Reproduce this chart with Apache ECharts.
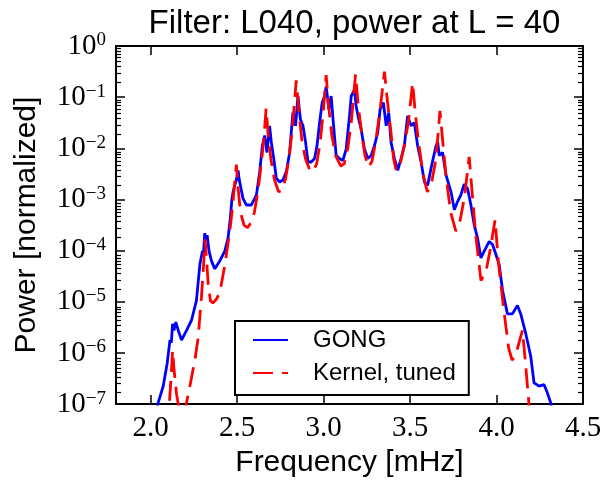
<!DOCTYPE html>
<html>
<head>
<meta charset="utf-8">
<script src="https://cdn.jsdelivr.net/npm/echarts@6/dist/echarts.min.js"></script>
<style>html,body{margin:0;padding:0;background:#fff}#c{width:605px;height:483px}</style>
</head>
<body>
<div id="c"></div>
<script>
// ---- data (frequency in mHz, normalized power) ----
const gongFreq = [2.025,2.044,2.073,2.096,2.112,2.120,2.127,2.135,2.146,2.160,2.179,2.208,2.237,2.265,2.285,2.300,2.305,2.313,2.320,2.327,2.338,2.352,2.371,2.400,2.429,2.448,2.461,2.470,2.477,2.487,2.496,2.506,2.512,2.519,2.534,2.554,2.583,2.612,2.631,2.646,2.660,2.673,2.688,2.698,2.712,2.727,2.746,2.765,2.785,2.804,2.813,2.823,2.838,2.852,2.866,2.881,2.896,2.910,2.929,2.948,2.962,2.977,2.992,3.006,3.015,3.031,3.044,3.058,3.073,3.092,3.112,3.131,3.150,3.160,3.179,3.188,3.203,3.217,3.236,3.256,3.275,3.294,3.313,3.327,3.346,3.362,3.377,3.390,3.410,3.429,3.448,3.467,3.486,3.506,3.525,3.544,3.564,3.583,3.602,3.621,3.650,3.660,3.669,3.688,3.708,3.737,3.756,3.775,3.794,3.813,3.833,3.852,3.871,3.890,3.910,3.929,3.958,3.977,3.996,4.015,4.035,4.063,4.092,4.121,4.140,4.169,4.198,4.217,4.246,4.275,4.294,4.313,4.330];
const gongPower = [5.0e-8,1.07e-7,2.24e-7,6.3e-7,1.78e-6,1.58e-6,3.7e-6,2.75e-6,4.0e-6,2.75e-6,1.78e-6,2.75e-6,4.4e-6,1.05e-5,5.4e-5,9.8e-5,7.9e-5,2.2e-4,1.58e-4,2.0e-4,9.8e-5,6.3e-5,4.4e-5,6.3e-5,9.8e-5,1.78e-4,4.3e-4,1.0e-3,1.41e-3,1.9e-3,2.4e-3,3.7e-3,2.5e-3,1.9e-3,1.05e-3,7.8e-4,7.8e-4,1.23e-3,3.5e-3,1.12e-2,1.78e-2,8.3e-3,2.75e-2,1.32e-2,6.3e-3,2.6e-3,2.2e-3,2.4e-3,3.5e-3,8.3e-3,2.0e-2,5.0e-2,2.75e-2,1.05e-1,3.7e-2,2.75e-2,1.32e-2,5.4e-3,5.4e-3,6.3e-3,1.12e-2,3.16e-2,7.8e-2,1.05e-1,1.62e-1,5.8e-2,1.05e-1,2.75e-2,7.2e-3,6.3e-3,5.8e-3,9.8e-3,4.3e-2,1.05e-1,1.41e-1,6.8e-2,3.7e-2,2.4e-2,9.8e-3,6.3e-3,7.2e-3,1.12e-2,2.0e-2,5.8e-2,7.8e-2,2.75e-2,5.0e-2,1.32e-2,6.3e-3,3.7e-3,6.3e-3,1.12e-2,4.3e-2,2.75e-2,3.16e-2,1.12e-2,5.4e-3,2.2e-3,1.9e-3,4.0e-3,1.12e-2,1.32e-2,7.2e-3,8.3e-3,3.0e-3,1.41e-3,6.3e-4,9.1e-4,1.23e-3,2.0e-3,1.62e-3,7.8e-4,3.2e-4,1.78e-4,7.2e-5,9.8e-5,1.51e-4,1.32e-4,8.5e-5,5.4e-5,1.66e-5,5.8e-6,5.8e-6,8.5e-6,5.8e-6,2.4e-6,8.5e-7,2.6e-7,2.24e-7,2.4e-7,1.66e-7,1.07e-7,5.0e-8];

const kernelFreq = [2.080,2.110,2.120,2.127,2.135,2.150,2.170,2.200,2.227,2.256,2.275,2.294,2.305,2.315,2.323,2.333,2.346,2.360,2.380,2.400,2.430,2.458,2.475,2.488,2.496,2.505,2.520,2.540,2.560,2.580,2.600,2.620,2.640,2.655,2.668,2.680,2.695,2.715,2.740,2.760,2.780,2.800,2.820,2.842,2.858,2.875,2.895,2.920,2.940,2.960,2.980,2.998,3.015,3.030,3.048,3.070,3.100,3.120,3.140,3.160,3.185,3.200,3.220,3.240,3.260,3.280,3.300,3.325,3.352,3.370,3.390,3.405,3.420,3.440,3.460,3.490,3.515,3.530,3.550,3.575,3.600,3.620,3.645,3.660,3.673,3.690,3.710,3.735,3.765,3.790,3.815,3.842,3.860,3.880,3.910,3.940,3.965,3.992,4.010,4.040,4.070,4.090,4.110,4.130,4.150,4.165,4.180,4.190,4.200];
const kernelPower = [3.2e-8,1.26e-7,4.0e-7,1.12e-6,5.0e-7,1.58e-7,6.3e-8,7.9e-8,2.24e-7,7.2e-7,2.0e-6,1.23e-5,4.5e-5,1.66e-4,7.2e-5,2.24e-5,1.05e-5,9.5e-6,1.12e-5,1.51e-5,5.4e-5,2.4e-4,7.9e-4,2.5e-3,4.8e-3,1.78e-3,5.6e-4,3.16e-4,2.8e-4,3.5e-4,5.6e-4,1.41e-3,5.0e-3,1.58e-2,6.0e-2,1.78e-2,6.3e-3,2.5e-3,1.41e-3,1.51e-3,2.5e-3,6.3e-3,2.5e-2,2.14e-1,5.0e-2,1.41e-2,6.3e-3,3.8e-3,3.5e-3,5.0e-3,1.26e-2,5.0e-2,2.7e-1,6.3e-2,1.78e-2,7.1e-3,4.5e-3,5.0e-3,1.0e-2,3.16e-2,2.8e-1,7.1e-2,2.0e-2,7.1e-3,4.3e-3,5.6e-3,1.26e-2,5.0e-2,3.16e-1,7.9e-2,2.0e-2,6.3e-3,3.7e-3,4.5e-3,8.9e-3,3.16e-2,1.9e-1,5.0e-2,1.26e-2,3.16e-3,1.41e-3,1.78e-3,5.0e-3,1.58e-2,5.4e-2,1.26e-2,2.5e-3,5.6e-4,2.4e-4,4.0e-4,1.12e-3,6.8e-3,1.26e-3,2.0e-4,2.6e-5,4.0e-5,1.12e-4,4.0e-4,6.3e-5,7.9e-6,1.26e-6,7.2e-7,8.9e-7,1.58e-6,2.75e-6,7.9e-7,2.0e-7,7.9e-8,3.2e-8];

const xTickValues = [2.0, 2.5, 3.0, 3.5, 4.0, 4.5];
const titleText = 'Filter: L040, power at L = 40';
const xName = 'Frequency [mHz]';
const yName = 'Power [normalized]';
const seriesNames = ['GONG', 'Kernel, tuned'];

// ---- chart ----
const pairs = (xs, ys) => xs.map((x, i) => [x, ys[i]]);
const minorTickPos = [];
for (let d = -7; d < 0; d++) for (let k = 2; k <= 9; k++) minorTickPos.push(d + Math.log10(k));

const G = { left: 116, top: 46, width: 467, height: 362 };
const black = '#000';
const sans = 'Liberation Sans';
const serif = 'Liberation Serif';

const chart = echarts.init(document.getElementById('c'), null, { renderer: 'canvas' });
chart.setOption({
  animation: false,
  backgroundColor: '#fff',
  title: {
    text: titleText, left: 349.5, textAlign: 'center', top: 2,
    textStyle: { fontFamily: sans, fontSize: 33, fontWeight: 'normal', color: black }
  },
  legend: {
    data: seriesNames, orient: 'vertical', left: 235, top: 321,
    itemWidth: 35, itemHeight: 14, itemGap: 9,
    padding: [7, 13, 10, 17],
    borderColor: black, borderWidth: 2, borderRadius: 0, backgroundColor: '#fff',
    itemStyle: { opacity: 0 },
    textStyle: { fontFamily: sans, fontSize: 24, color: black, padding: [0, 0, 0, 20] }
  },
  grid: [
    Object.assign({ containLabel: false }, G),
    Object.assign({ containLabel: false }, G)
  ],
  xAxis: [
    {
      gridIndex: 0, type: 'value', position: 'bottom', min: 1.8, max: 4.5,
      name: xName, nameLocation: 'middle', nameGap: 42,
      nameTextStyle: { fontFamily: sans, fontSize: 30, color: black },
      axisLine: { show: true, lineStyle: { color: black, width: 2 } },
      axisTick: { show: true, inside: true, length: 9, customValues: xTickValues, lineStyle: { color: black, width: 1.5 } },
      axisLabel: { show: true, customValues: xTickValues, margin: 10, fontFamily: serif, fontSize: 29, color: black, formatter: v => v.toFixed(1) },
      splitLine: { show: false }
    },
    {
      gridIndex: 0, type: 'value', position: 'top', min: 1.8, max: 4.5,
      axisLine: { show: true, lineStyle: { color: black, width: 2 } },
      axisTick: { show: true, inside: true, length: 9, customValues: xTickValues, lineStyle: { color: black, width: 1.5 } },
      axisLabel: { show: false }, splitLine: { show: false }
    },
    { gridIndex: 1, type: 'value', min: 0, max: 1, show: false }
  ],
  yAxis: [
    {
      gridIndex: 0, type: 'log', logBase: 10, position: 'left', min: 1e-7, max: 1,
      name: yName, nameLocation: 'middle', nameGap: 74,
      nameTextStyle: { fontFamily: sans, fontSize: 30, color: black },
      axisLine: { show: true, lineStyle: { color: black, width: 2 } },
      axisTick: { show: true, inside: true, length: 9, lineStyle: { color: black, width: 1.5 } },
      axisLabel: {
        show: true, margin: 10,
        formatter: v => { const e = Math.round(Math.log10(v)); return '{b|10}{s|' + (e < 0 ? '\u2212' + (-e) : e) + '}'; },
        rich: {
          b: { fontFamily: serif, fontSize: 29, color: black, lineHeight: 30 },
          s: { fontFamily: serif, fontSize: 19, color: black, lineHeight: 19, verticalAlign: 'top' }
        }
      },
      splitLine: { show: false }
    },
    {
      gridIndex: 0, type: 'log', logBase: 10, position: 'right', min: 1e-7, max: 1,
      axisLine: { show: true, lineStyle: { color: black, width: 2 } },
      axisTick: { show: true, inside: true, length: 9, lineStyle: { color: black, width: 1.5 } },
      axisLabel: { show: false }, splitLine: { show: false }
    },
    {
      gridIndex: 1, type: 'value', position: 'left', min: -7, max: 0,
      axisLine: { show: false },
      axisTick: { show: true, inside: true, length: 5, customValues: minorTickPos, lineStyle: { color: black, width: 1.2 } },
      axisLabel: { show: false }, splitLine: { show: false }
    },
    {
      gridIndex: 1, type: 'value', position: 'right', min: -7, max: 0,
      axisLine: { show: false },
      axisTick: { show: true, inside: true, length: 5, customValues: minorTickPos, lineStyle: { color: black, width: 1.2 } },
      axisLabel: { show: false }, splitLine: { show: false }
    }
  ],
  series: [
    {
      name: seriesNames[0], type: 'line', xAxisIndex: 0, yAxisIndex: 0,
      data: pairs(gongFreq, gongPower), symbol: 'none', clip: true,
      lineStyle: { color: '#0000ff', width: 2.8 }, itemStyle: { color: '#0000ff' }, z: 3
    },
    {
      name: seriesNames[1], type: 'line', xAxisIndex: 0, yAxisIndex: 0,
      data: pairs(kernelFreq, kernelPower), symbol: 'none', clip: true,
      lineStyle: { color: '#ff0000', width: 2.8, type: [20, 9] }, itemStyle: { color: '#ff0000' }, z: 4
    }
  ]
});
</script>
</body>
</html>
